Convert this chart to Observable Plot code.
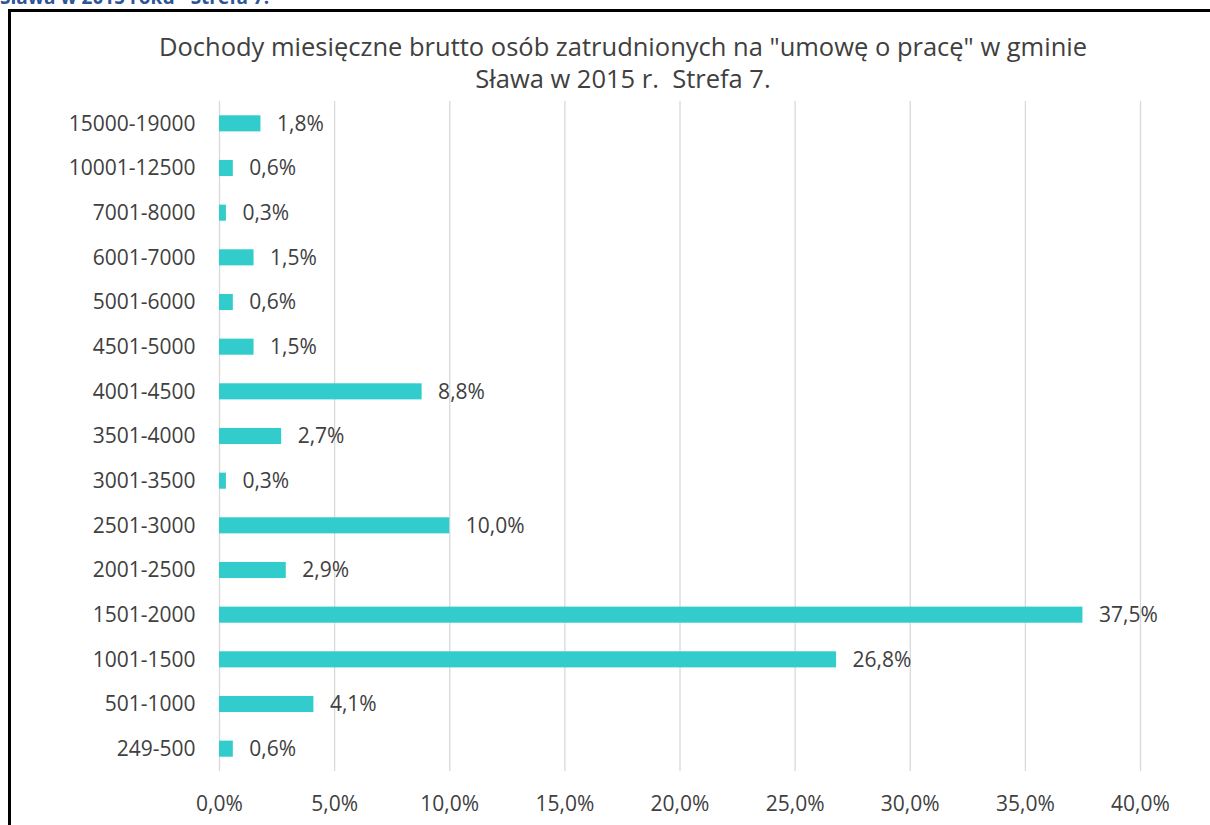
<!DOCTYPE html>
<html>
<head>
<meta charset="utf-8">
<script src="https://cdn.jsdelivr.net/npm/d3@7"></script>
<script src="https://cdn.jsdelivr.net/npm/@observablehq/plot@0.6"></script>
<style>
  html, body { margin: 0; padding: 0; background: #fff; }
  body { width: 1210px; height: 825px; overflow: hidden; position: relative; font-family: "Open Sans", sans-serif; }
  #caption { position: absolute; left: 0; top: -16px; font: bold 19px "Open Sans", sans-serif; color: #2E5597; white-space: nowrap; }
  #frame { position: absolute; left: 8px; top: 9px; width: 1300px; height: 900px; border: 3px solid #000; box-sizing: border-box; }
  #title { position: absolute; left: 0; width: 1246px; top: 30px; text-align: center; font-size: 25.5px; line-height: 32px; color: #404040; white-space: nowrap; }
  #chart { position: absolute; left: 0; top: 90px; }
</style>
</head>
<body>
<div id="caption">Sława w 2015 roku - Strefa 7.</div>
<div id="frame"></div>
<div id="title">Dochody miesięczne brutto osób zatrudnionych na "umowę o pracę" w gminie<br>Sława w 2015 r.&nbsp; Strefa 7.</div>
<div id="chart"></div>
<script>
const categories = ["15000-19000","10001-12500","7001-8000","6001-7000","5001-6000","4501-5000","4001-4500","3501-4000","3001-3500","2501-3000","2001-2500","1501-2000","1001-1500","501-1000","249-500"];
const values = [1.8, 0.6, 0.3, 1.5, 0.6, 1.5, 8.8, 2.7, 0.3, 10.0, 2.9, 37.5, 26.8, 4.1, 0.6];
const xTicks = [0, 5, 10, 15, 20, 25, 30, 35, 40];

const data = categories.map((c, i) => ({cat: c, val: values[i]}));
const fmt = v => v.toFixed(1).replace(".", ",") + "%";

const chart = Plot.plot({
  width: 1210,
  height: 740,
  marginLeft: 219,
  marginRight: 70,
  marginTop: 11,
  marginBottom: 59,
  style: {fontFamily: "'Open Sans', sans-serif", fontSize: "21px", color: "#404040", background: "transparent"},
  x: {domain: [0, 40], label: null},
  y: {domain: categories, paddingInner: 0.64, paddingOuter: 0.32, round: false, label: null},
  marks: [
    Plot.ruleX(xTicks, {stroke: "#d9d9d9", strokeWidth: 1.3}),
    Plot.barX(data, {y: "cat", x: "val", fill: "#33CCCC"}),
    Plot.text(data, {y: "cat", x: "val", text: d => fmt(d.val), textAnchor: "start", dx: 16, fill: "#404040", fontSize: 21}),
    Plot.axisX({ticks: xTicks, tickSize: 0, tickPadding: 25, tickFormat: fmt, fontSize: 21}),
    Plot.axisY({tickSize: 0, tickPadding: 24, fontSize: 21})
  ]
});
document.getElementById("chart").appendChild(chart);
</script>
</body>
</html>
